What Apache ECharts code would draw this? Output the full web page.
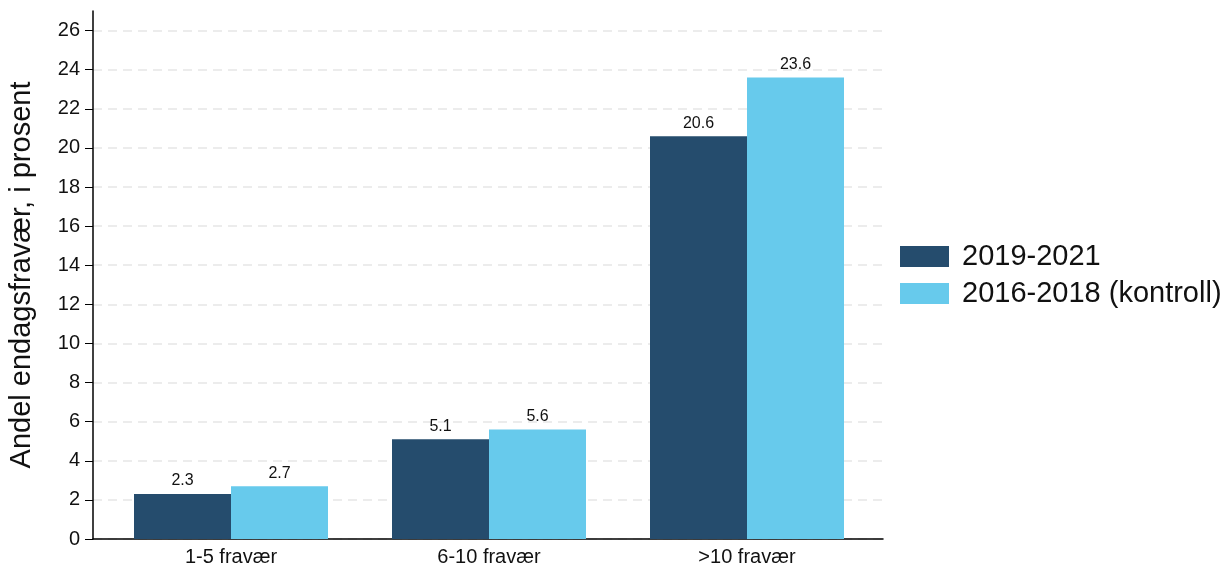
<!DOCTYPE html>
<html>
<head>
<meta charset="utf-8">
<script src="https://cdn.jsdelivr.net/npm/echarts@6/dist/echarts.min.js"></script>
<style>
  html, body { margin: 0; padding: 0; background: #fff; }
  #chart { width: 1224px; height: 564px; }
</style>
</head>
<body>
<div id="chart"></div>
<script>
// Absence groups and shares (percent) for each period
const categories = ['1-5 fravær', '6-10 fravær', '>10 fravær'];
const seriesNames = ['2019-2021', '2016-2018 (kontroll)'];
const values2019 = [2.3, 5.1, 20.6];
const values2016 = [2.7, 5.6, 23.6];
const yTicks = [0, 2, 4, 6, 8, 10, 12, 14, 16, 18, 20, 22, 24, 26];
const colors = ['#254c6d', '#67caec'];

const FONT = '"Liberation Sans", Arial, Helvetica, sans-serif';
const chart = echarts.init(document.getElementById('chart'), null, { renderer: 'canvas' });

const labelStyle = {
  show: true,
  position: 'top',
  distance: 5,
  fontFamily: FONT,
  fontSize: 16,
  color: '#111',
  formatter: p => p.value.toFixed(1)
};

chart.setOption({
  backgroundColor: '#fff',
  animation: false,
  textStyle: { fontFamily: FONT },
  grid: [
    { left: 102, right: 348, top: 11, bottom: 25, outerBoundsMode: 'none' },
    // frame grid that carries the full-width baseline and the gridlines
    { left: 93, right: 341, top: 11, bottom: 25, outerBoundsMode: 'none' }
  ],
  legend: {
    orient: 'vertical',
    left: 895,
    top: 237,
    itemWidth: 49,
    itemHeight: 21,
    itemGap: 8,
    icon: 'rect',
    textStyle: { fontFamily: FONT, fontSize: 29, color: '#111', padding: [0, 0, 0, 8] },
    data: seriesNames
  },
  xAxis: [
    {
      type: 'category',
      gridIndex: 0,
      data: categories,
      axisLine: { show: false },
      axisTick: { show: false },
      axisLabel: { fontFamily: FONT, fontSize: 20, color: '#111', margin: 8 },
      splitLine: { show: false }
    },
    {
      type: 'value',
      gridIndex: 1,
      min: 0,
      max: 1,
      axisLine: { show: true, onZero: false, lineStyle: { color: '#000', width: 1.5 } },
      axisTick: { show: false },
      axisLabel: { show: false },
      splitLine: { show: false }
    }
  ],
  yAxis: [
    {
      type: 'value',
      gridIndex: 0,
      min: 0,
      max: 27,
      interval: 2,
      offset: 9,
      name: 'Andel endagsfravær, i prosent',
      nameLocation: 'middle',
      nameGap: 57,
      nameTextStyle: { fontFamily: FONT, fontSize: 29, color: '#111' },
      axisLine: { show: true, lineStyle: { color: '#000', width: 1.5 } },
      axisTick: { show: true, length: 8, customValues: yTicks, lineStyle: { color: '#000', width: 1 } },
      axisLabel: { fontFamily: FONT, fontSize: 20, color: '#111', margin: 13, customValues: yTicks },
      splitLine: { show: false }
    },
    {
      type: 'value',
      gridIndex: 1,
      min: 0,
      max: 27,
      interval: 2,
      axisLine: { show: false },
      axisTick: { show: false, customValues: yTicks },
      axisLabel: { show: false, customValues: yTicks },
      splitLine: { show: true, lineStyle: { color: '#e6e6e6', width: 1.5, type: [9, 6] } }
    }
  ],
  series: [
    {
      name: seriesNames[0],
      type: 'bar',
      xAxisIndex: 0,
      yAxisIndex: 0,
      data: values2019,
      barWidth: 97,
      barGap: '0%',
      itemStyle: { color: colors[0] },
      label: labelStyle,
      z: 3
    },
    {
      name: seriesNames[1],
      type: 'bar',
      xAxisIndex: 0,
      yAxisIndex: 0,
      data: values2016,
      barWidth: 97,
      barGap: '0%',
      itemStyle: { color: colors[1] },
      label: labelStyle,
      z: 3
    }
  ]
});
</script>
</body>
</html>
